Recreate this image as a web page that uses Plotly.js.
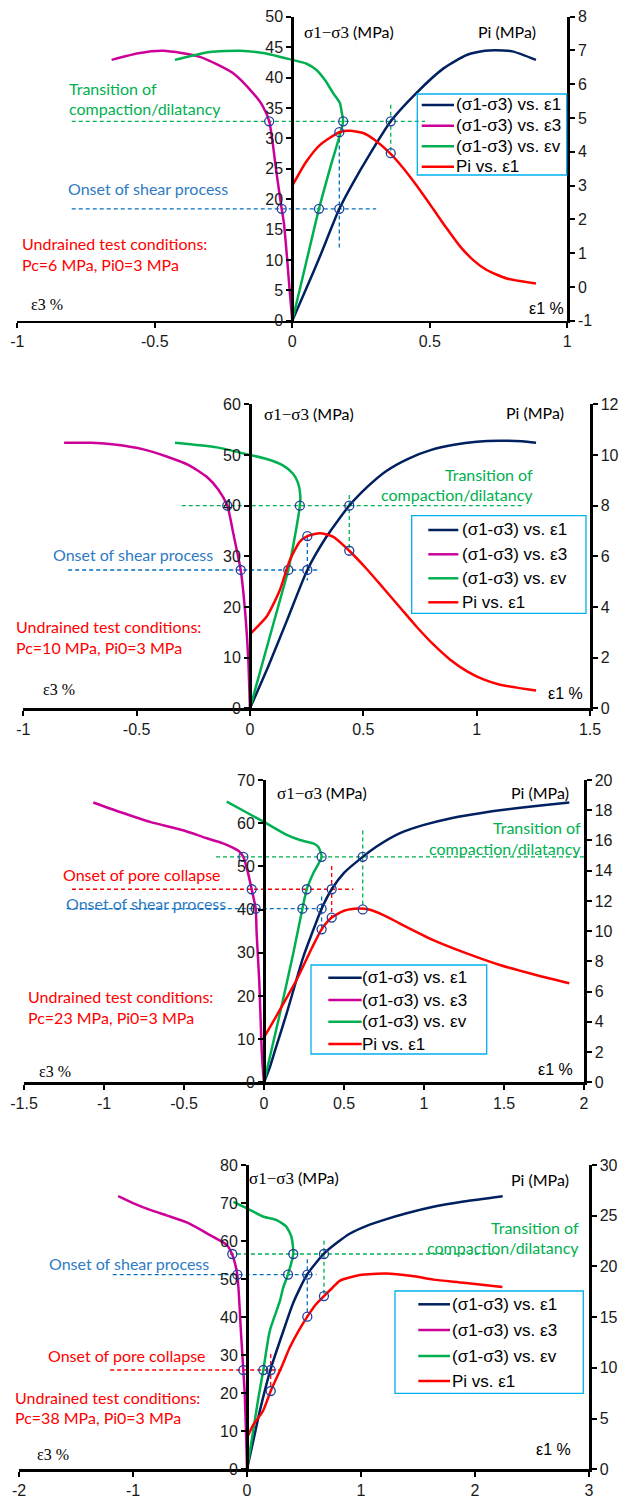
<!DOCTYPE html>
<html><head><meta charset="utf-8">
<script src="https://cdn.plot.ly/plotly-3.0.1.min.js"></script>
<style>html,body{margin:0;padding:0;background:#fff}#chart{width:625px;height:1499px}</style>
</head><body><div id="chart"></div>
<script>
// ---------------- DATA ----------------
const seriesNames = ['(σ1-σ3) vs. ε1', '(σ1-σ3) vs. ε3', '(σ1-σ3) vs. εv', 'Pi vs. ε1'];
const noteTexts = ['Transition of', 'compaction/dilatancy', 'Onset of shear process', 'Onset of pore collapse', 'Undrained test conditions:'];
const condTexts = ['Pc=6 MPa, Pi0=3 MPa', 'Pc=10 MPa, Pi0=3 MPa', 'Pc=23 MPa, Pi0=3 MPa', 'Pc=38 MPa, Pi0=3 MPa'];
const axisTexts = ['σ1−σ3', ' (MPa)', 'Pi (MPa)', 'ε3 %', 'ε1 %'];

// Panel 1 (Pc = 6 MPa)
const p1_e1 = [0, 0.05, 0.10, 0.171, 0.22, 0.282, 0.358, 0.45, 0.55, 0.634, 0.70, 0.737, 0.80, 0.886];
const p1_q_e1 = [0, 5.2, 10.5, 18.4, 22.6, 27.4, 32.8, 37.4, 41.5, 43.7, 44.4, 44.5, 44.3, 42.9];
const p1_e3 = [0, -0.0097, -0.0194, -0.0303, -0.0386, -0.057, -0.084, -0.11, -0.142, -0.215, -0.336, -0.469, -0.56, -0.657];
const p1_q_e3 = [0, 5, 10.5, 16, 18.4, 24.2, 32.8, 35.5, 37.4, 40.7, 43.4, 44.4, 44.0, 42.9];
const p1_ev = [0, 0.05, 0.097, 0.14, 0.185, 0.18, 0.173, 0.149, 0.12, 0.089, 0.05, 0, -0.1, -0.19, -0.3, -0.427];
const p1_q_ev = [0, 9.5, 18.4, 25.5, 32.8, 34.2, 35.8, 37.4, 39.5, 41.2, 42.3, 42.9, 44.0, 44.4, 44.2, 42.9];
const p1_pi_e1 = [0, 0.05, 0.1, 0.171, 0.21, 0.26, 0.3, 0.355, 0.40, 0.452, 0.513, 0.56, 0.61, 0.66, 0.707, 0.78, 0.886];
const p1_pi = [3.0, 3.7, 4.2, 4.58, 4.62, 4.55, 4.35, 3.96, 3.55, 3.0, 2.3, 1.75, 1.2, 0.78, 0.5, 0.25, 0.1];
const p1_mk_e = [-0.0386, 0.097, 0.171, -0.084, 0.185, 0.358];
const p1_mk_q = [18.4, 18.4, 18.4, 32.8, 32.8, 32.8];
const p1_mk_pe = [0.171, 0.358];
const p1_mk_pi = [4.58, 3.96];

// Panel 2 (Pc = 10 MPa)
const p2_e1 = [0, 0.08, 0.162, 0.253, 0.338, 0.438, 0.52, 0.6, 0.7, 0.8, 0.9, 1.0, 1.1, 1.2, 1.262];
const p2_q_e1 = [0, 8.2, 17.2, 27.3, 33.9, 40, 43.8, 46.8, 49.3, 51, 52, 52.6, 52.8, 52.7, 52.4];
const p2_e3 = [0, -0.003, -0.0074, -0.022, -0.041, -0.0735, -0.1, -0.14, -0.191, -0.27, -0.368, -0.47, -0.588, -0.7, -0.82];
const p2_q_e3 = [0, 4, 9.5, 19.4, 27.3, 34.5, 40, 43.2, 45.7, 48, 49.7, 51.1, 52, 52.4, 52.4];
const p2_ev = [0, 0.0735, 0.132, 0.169, 0.198, 0.22, 0.222, 0.212, 0.19, 0.147, 0.0735, 0, -0.147, -0.331];
const p2_q_ev = [0, 11.9, 21.3, 27.3, 33.9, 40, 42, 44.5, 46.3, 47.9, 49.2, 50, 51.5, 52.4];
const p2_pi_e1 = [0, 0.0735, 0.132, 0.176, 0.22, 0.253, 0.309, 0.368, 0.438, 0.515, 0.588, 0.662, 0.735, 0.809, 0.882, 0.956, 1.03, 1.103, 1.262];
const p2_pi = [2.93, 3.62, 4.67, 5.85, 6.58, 6.8, 6.91, 6.77, 6.22, 5.5, 4.75, 3.98, 3.22, 2.52, 1.93, 1.47, 1.14, 0.93, 0.70];
const p2_mk_e = [-0.041, 0.169, 0.253, -0.1, 0.22, 0.438];
const p2_mk_q = [27.3, 27.3, 27.3, 40, 40, 40];
const p2_mk_pe = [0.253, 0.438];
const p2_mk_pi = [6.8, 6.22];

// Panel 3 (Pc = 23 MPa)
const p3_e1 = [0, 0.0375, 0.07, 0.142, 0.246, 0.3, 0.36, 0.423, 0.5, 0.617, 0.704, 0.85, 1.0, 1.1625, 1.3, 1.475, 1.7, 1.908];
const p3_q_e1 = [0, 3.6, 7.5, 16, 29.1, 34.5, 40.2, 44.7, 48.5, 52.2, 54.6, 57.7, 59.6, 61.1, 62, 63, 64, 64.8];
const p3_e3 = [0, -0.005, -0.0146, -0.029, -0.046, -0.052, -0.077, -0.1, -0.129, -0.16, -0.192, -0.26, -0.358, -0.5, -0.7125, -0.9, -1.067];
const p3_q_e3 = [0, 2, 7.5, 22.9, 34.5, 40.2, 44.7, 48.5, 52.2, 53.6, 54.3, 55.4, 56.5, 58.3, 60.3, 62.6, 64.8];
const p3_ev = [0, 0.05, 0.1, 0.183, 0.24, 0.267, 0.308, 0.36, 0.34, 0.308, 0.225, 0.142, 0, -0.1, -0.233];
const p3_q_ev = [0, 8, 16, 29.9, 40.2, 44.7, 48.4, 52.2, 54.5, 55.3, 56.1, 57.3, 60.3, 62.3, 65.0];
const p3_pi_e1 = [0, 0.07, 0.142, 0.2, 0.246, 0.3, 0.36, 0.423, 0.5, 0.59, 0.65, 0.75, 0.85, 1.058, 1.267, 1.475, 1.7, 1.908];
const p3_pi = [2.98, 4.25, 5.6, 6.7, 7.7, 8.9, 10.12, 10.9, 11.35, 11.5, 11.45, 11.05, 10.5, 9.41, 8.53, 7.76, 7.1, 6.55];
const p3_mk_e = [-0.052, 0.24, 0.36, -0.077, 0.267, 0.423, -0.129, 0.36, 0.617];
const p3_mk_q = [40.2, 40.2, 40.2, 44.7, 44.7, 44.7, 52.2, 52.2, 52.2];
const p3_mk_pe = [0.36, 0.423, 0.617];
const p3_mk_pi = [10.12, 10.9, 11.44];

// Panel 4 (Pc = 38 MPa)
const p4_e1 = [0, 0.05, 0.112, 0.208, 0.317, 0.406, 0.529, 0.675, 0.8, 0.904, 1.05, 1.196, 1.4, 1.635, 1.9, 2.243];
const p4_q_e1 = [0, 6.8, 15.3, 26.4, 36.2, 43.8, 51.3, 56.7, 59.8, 62, 64, 65.5, 67.3, 69, 70.4, 71.8];
const p4_e3 = [0, -0.004, -0.009, -0.02, -0.0325, -0.054, -0.085, -0.129, -0.178, -0.296, -0.4, -0.529, -0.7, -0.85, -1.0, -1.13];
const p4_q_e3 = [0, 5, 10, 20, 26.1, 36.6, 51.1, 56.4, 59.0, 61.1, 62.9, 64.9, 66.7, 68.2, 70, 71.8];
const p4_ev = [0, 0.05, 0.099, 0.143, 0.2, 0.288, 0.317, 0.36, 0.406, 0.39, 0.345, 0.26, 0.146, 0, -0.12];
const p4_q_ev = [0, 9.3, 18.6, 26.1, 36.4, 44.2, 47.7, 51.3, 56.7, 61.1, 63.8, 65.5, 66.4, 68.6, 70.3];
const p4_pi_e1 = [0, 0.056, 0.14, 0.208, 0.3, 0.375, 0.45, 0.529, 0.6, 0.675, 0.75, 0.816, 0.99, 1.22, 1.45, 1.635, 1.9, 2.24];
const p4_pi = [3.1, 4.4, 5.75, 7.72, 10, 12, 13.6, 15.05, 16.2, 17.08, 17.9, 18.6, 19.15, 19.3, 19.05, 18.7, 18.4, 17.97];
const p4_mk_e = [-0.0325, 0.143, 0.208, -0.085, 0.36, 0.529, -0.129, 0.406, 0.675];
const p4_mk_q = [26.1, 26.1, 26.1, 51.2, 51.2, 51.2, 56.6, 56.6, 56.6];
const p4_mk_pe = [0.208, 0.529, 0.675];
const p4_mk_pi = [7.72, 15.05, 17.08];

// ---------------- LAYOUT / STYLE ----------------
const W = 625, H = 1499;
const px = v => v / W, py = v => 1 - v / H;
const C = {navy:'#002060', mag:'#cc0099', grn:'#00b050', red:'#ff0000', mk:'#22409a',
           gB:'#0070c0', gG:'#00b050', gR:'#ff0000', tB:'#2e7bc4', tG:'#00b050', tR:'#ff0000', leg:'#00b0f0'};
const FT = {family:'Liberation Sans, Arial, sans-serif', size:16, color:'#1a1a1a'};
const FA = 'Lato, sans-serif';
const FS = 'Liberation Serif, serif';
const FL = 'Liberation Sans, Arial, sans-serif';

const panels = [
  {g:{x0:17.3,x1:567.3,y0:16.7,y1:320.7,xr:[-1,1],qr:[0,50],pr:[-1,8],xd:0.5,qd:5,pd:1,yax:292.3},
   d:[p1_e1,p1_q_e1,p1_e3,p1_q_e3,p1_ev,p1_q_ev,p1_pi_e1,p1_pi], mk:[p1_mk_e,p1_mk_q,p1_mk_pe,p1_mk_pi],
   guides:[['h',32.8,-0.802,0.4825,'gG'],['v',0.358,35.5,27.5,'gG'],['h',18.4,-0.802,0.305,'gB'],['v',0.171,31.1,12.0,'gB']],
   box:[417.3,94,566.7,175], leg:{lx0:421.7,lx1:454,tx:455,ys:[105,125.7,146.3,166.7]},
   notes:[[0,68,88,'tG','left'],[1,68,109,'tG','left'],[2,67,188,'tB','left'],[4,21,243,'tR','left']],
   cond:[21,265], q:[303,32], pi:[477,31], e3:[30,305], e1:[528,308]},
  {g:{x0:23.3,x1:590,y0:404.3,y1:708.3,xr:[-1,1.5],qr:[0,60],pr:[0,12],xd:0.5,qd:10,pd:2,yax:250},
   d:[p2_e1,p2_q_e1,p2_e3,p2_q_e3,p2_ev,p2_q_ev,p2_pi_e1,p2_pi], mk:[p2_mk_e,p2_mk_q,p2_mk_pe,p2_mk_pi],
   guides:[['h',40,-0.301,1.203,'gG'],['v',0.438,42.1,31.0,'gG'],['h',27.3,-0.802,0.301,'gB'],['v',0.253,34.0,25.2,'gB']],
   box:[411.7,515.7,586,613.3], leg:{lx0:428.3,lx1:458.3,tx:461,ys:[530,554.3,578.3,602.3]},
   notes:[[0,534,474,'tG','right'],[1,534,495,'tG','right'],[2,52,554,'tB','left'],[4,15,626,'tR','left']],
   cond:[15,647], q:[263,414], pi:[505,413], e3:[42,690], e1:[547,693]},
  {g:{x0:24,x1:584,y0:780,y1:1082.3,xr:[-1.5,2],qr:[0,70],pr:[0,20],xd:0.5,qd:10,pd:2,yax:264},
   d:[p3_e1,p3_q_e1,p3_e3,p3_q_e3,p3_ev,p3_q_ev,p3_pi_e1,p3_pi], mk:[p3_mk_e,p3_mk_q,p3_mk_pe,p3_mk_pi],
   guides:[['h',52.2,-0.3,2.0,'gG'],['v',0.617,58.3,40.05,'gG'],['h',44.7,-1.2,0.558,'gR'],['v',0.423,50.1,38.2,'gR'],['h',40.2,-1.233,0.38,'gB'],['v',0.36,43.0,35.4,'gB']],
   box:[311,965,486.7,1054], leg:{lx0:328.3,lx1:361.7,tx:361,ys:[977.7,1000,1021.7,1044]},
   notes:[[0,582,827,'tG','right'],[1,582,848,'tG','right'],[3,62,874,'tR','left'],[2,65,904,'tB','left'],[4,27,996,'tR','left']],
   cond:[27,1017], q:[276,793], pi:[510,792], e3:[38,1071], e1:[537,1069]},
  {g:{x0:19,x1:589,y0:1165,y1:1469.3,xr:[-2,3],qr:[0,80],pr:[0,30],xd:1,qd:10,pd:5,yax:247},
   d:[p4_e1,p4_q_e1,p4_e3,p4_q_e3,p4_ev,p4_q_ev,p4_pi_e1,p4_pi], mk:[p4_mk_e,p4_mk_q,p4_mk_pe,p4_mk_pi],
   guides:[['h',56.6,-0.15,2.21,'gG'],['v',0.675,60.1,45.8,'gG'],['h',51.2,-1.178,0.61,'gB'],['v',0.529,55.2,40.4,'gB'],['h',26.1,-1.2,0.304,'gR'],['v',0.208,30.3,20.8,'gR']],
   box:[395,1291,583.3,1393.3], leg:{lx0:418.3,lx1:450,tx:451,ys:[1304.3,1330,1356,1381]},
   notes:[[0,580,1227,'tG','right'],[1,580,1247,'tG','right'],[2,48,1263,'tB','left'],[3,47,1355,'tR','left'],[4,14,1397,'tR','left']],
   cond:[14,1417], q:[248,1178], pi:[510,1179], e3:[36,1454], e1:[535,1449]}
];

const traces = [];
const layout = {width:W, height:H, margin:{l:0,r:0,t:0,b:0,pad:0}, paper_bgcolor:'#fff', plot_bgcolor:'rgba(0,0,0,0)',
  showlegend:false, shapes:[], annotations:[], hovermode:false};
const axBase = {showline:true, linecolor:'#000', linewidth:2.5, ticks:'outside', ticklen:5, tickwidth:2, tickcolor:'#000',
  showgrid:false, zeroline:false, tickfont:FT, fixedrange:true, automargin:false};
const key = id => id[0] + 'axis' + id.slice(1);
const ticksOf = (r, d) => { const v = []; for (let t = r[0]; t <= r[1] + 1e-9; t += d) v.push(Math.round(t * 1000) / 1000); return v; };

function note(text, x, y, color, anchor, family, size) {
  layout.annotations.push({text, x:px(x), y:py(y), xref:'paper', yref:'paper', xanchor:anchor, yanchor:'middle',
    showarrow:false, font:{family, size, color}, borderpad:0});
}

panels.forEach((p, i) => {
  const g = p.g;
  const xa = i ? 'x' + (i + 1) : 'x';
  const yl = (2 * i + 1) === 1 ? 'y' : 'y' + (2 * i + 1);
  const yr = 'y' + (2 * i + 2);
  const dom = [py(g.y1), py(g.y0)];
  const xv = ticksOf(g.xr, g.xd), qv = ticksOf(g.qr, g.qd), pv = ticksOf(g.pr, g.pd);
  layout[key(xa)] = {...axBase, domain:[px(g.x0), px(g.x1)], range:g.xr, anchor:yl,
    tickmode:'array', tickvals:xv, ticktext:xv.map(String)};
  layout[key(yl)] = {...axBase, domain:dom, range:g.qr, anchor:'free', position:px(g.yax),
    tickmode:'array', tickvals:qv, ticktext:qv.map(String)};
  layout[key(yr)] = {...axBase, domain:dom, range:g.pr, overlaying:yl, side:'right', anchor:xa,
    tickmode:'array', tickvals:pv, ticktext:pv.map(String)};
  const [e1, q1, e3, q3, ev, qv2, pe, pi] = p.d;
  const cols = [C.navy, C.mag, C.grn, C.red];
  const xs = [e1, e3, ev, pe], ys = [q1, q3, qv2, pi];
  // dashed guide lines
  p.guides.forEach(gd => {
    const line = {color:C[gd[4]], width:1.3, dash:'4px,3px'};
    if (gd[0] === 'h') traces.push({x:[gd[2], gd[3]], y:[gd[1], gd[1]], xaxis:xa, yaxis:yl, mode:'lines', line, hoverinfo:'skip'});
    else traces.push({x:[gd[1], gd[1]], y:[gd[2], gd[3]], xaxis:xa, yaxis:yl, mode:'lines', line, hoverinfo:'skip'});
  });
  for (let k = 0; k < 4; k++) {
    traces.push({x:xs[k], y:ys[k], xaxis:xa, yaxis:k === 3 ? yr : yl, mode:'lines', name:seriesNames[k],
      line:{color:cols[k], width:2.5, shape:'spline', smoothing:0.6}});
  }
  const mkStyle = {symbol:'circle-open', size:9, color:C.mk, line:{width:1.3, color:C.mk}};
  traces.push({x:p.mk[0], y:p.mk[1], xaxis:xa, yaxis:yl, mode:'markers', marker:mkStyle});
  traces.push({x:p.mk[2], y:p.mk[3], xaxis:xa, yaxis:yr, mode:'markers', marker:mkStyle});
  // legend box (drawn manually)
  const b = p.box, L = p.leg;
  layout.shapes.push({type:'rect', xref:'paper', yref:'paper', x0:px(b[0]), x1:px(b[2]), y0:py(b[3]), y1:py(b[1]),
    line:{color:C.leg, width:1.3}});
  for (let k = 0; k < 4; k++) {
    layout.shapes.push({type:'line', xref:'paper', yref:'paper', x0:px(L.lx0), x1:px(L.lx1), y0:py(L.ys[k]), y1:py(L.ys[k]),
      line:{color:cols[k], width:2.5}});
    note(seriesNames[k], L.tx, L.ys[k], '#000', 'left', FL, 17);
  }
  // text notes
  p.notes.forEach(n => note(noteTexts[n[0]], n[1], n[2], C[n[3]], n[4], FA, 16));
  note(condTexts[i], p.cond[0], p.cond[1], C.tR, 'left', FA, 16);
  note('<span style="font-family:Liberation Serif;font-size:17px">' + axisTexts[0] + '</span>' + axisTexts[1], p.q[0], p.q[1], '#000', 'left', FA, 16);
  note(axisTexts[2], p.pi[0], p.pi[1], '#000', 'left', FA, 16);
  note(axisTexts[3], p.e3[0], p.e3[1], '#000', 'left', FS, 16);
  note(axisTexts[4], p.e1[0], p.e1[1], '#000', 'left', FL, 16);
});

Plotly.newPlot('chart', traces, layout, {staticPlot:true, displayModeBar:false});
</script></body></html>
